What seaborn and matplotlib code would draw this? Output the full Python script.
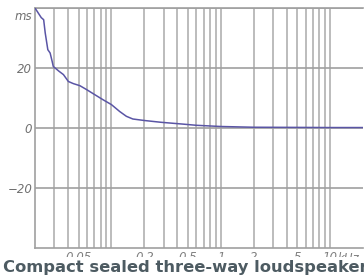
import matplotlib
matplotlib.use("Agg")
import matplotlib.pyplot as plt
import seaborn as sns
import pandas as pd
import numpy as np

# Data (group delay in ms vs frequency in kHz)
freq_khz = [0.020, 0.0228, 0.024, 0.0248, 0.0262, 0.0275, 0.0287, 0.0294, 0.0332,
            0.0364, 0.0404, 0.0448, 0.0515, 0.0593, 0.0705, 0.084, 0.100, 0.119,
            0.137, 0.157, 0.200, 0.285, 0.45, 0.60, 1.0, 2.0, 5.0, 10.0, 20.0]
delay_ms = [40.0, 36.8, 36.1, 31.7, 26.1, 25.0, 22.2, 20.5, 18.9,
            17.8, 15.5, 14.8, 14.1, 12.8, 11.1, 9.4, 7.8, 5.5,
            3.9, 3.0, 2.5, 1.9, 1.3, 0.9, 0.5, 0.25, 0.2, 0.15, 0.15]
x_ticks = [0.05, 0.2, 0.5, 1, 2, 5, 10]
x_ticklabels = ["0.05", "0.2", "0.5", "1", "2", "5", "10"]
y_ticks = [-20, 0, 20]
y_ticklabels = ["\u221220", "0", "20"]
title = "Compact sealed three-way loudspeaker"

sns.set_style("white")
plt.rcParams['font.family'] = ['DejaVu Sans']

W, H = 364, 277
fig = plt.figure(figsize=(W / 100, H / 100), dpi=100)
ax = fig.add_axes([35 / W, 1 - 248 / H, (363 - 35) / W, (248 - 8) / H])

df = pd.DataFrame({"f": freq_khz, "d": delay_ms})

# grid
grid_x = [k * 10.0 ** n for n in (-2, -1, 0, 1) for k in range(1, 10)]
grid_x = [g for g in grid_x if 0.021 < g < 19.9]
for g in grid_x:
    ax.axvline(g, color="#b0b0b0", lw=1.2, zorder=1)
for g in [-20, 0, 20, 40]:
    ax.axhline(g, color="#a0a0a0", lw=1.2, zorder=1)

sns.lineplot(data=df, x="f", y="d", ax=ax, color="#5a55a5", lw=1.1, zorder=3)

ax.set_xscale("log")
ax.set_xlim(0.02, 20)
ax.set_ylim(-40, 40)
ax.set_xlabel("")
ax.set_ylabel("")

for s in ["left", "bottom", "top"]:
    ax.spines[s].set_color("#a0a0a0")
    ax.spines[s].set_linewidth(1.2)
ax.spines["right"].set_visible(False)

ax.set_xticks(x_ticks)
ax.set_xticklabels(x_ticklabels, fontsize=8.5, style="italic", color="#808080")
ax.xaxis.set_minor_locator(matplotlib.ticker.NullLocator())
ax.set_yticks(y_ticks)
ax.set_yticklabels(y_ticklabels, fontsize=8.5, style="italic", color="#707070")
ax.tick_params(axis="both", length=0, pad=2)
ax.tick_params(axis="x", pad=2.5)

ax.text(-0.008, 37.3, "ms", transform=ax.get_yaxis_transform(), ha="right", va="center",
        fontsize=8.5, style="italic", color="#707070")
ax.text(11.7, -41.4, "kHz", ha="left", va="top", fontsize=8.5, style="italic",
        color="#808080")

fig.text(3 / W, 1 - 272 / H, title, ha="left", va="baseline", fontsize=11.8,
         fontweight="bold", color="#4d5b62",
         bbox=dict(facecolor="white", edgecolor="none", pad=2.0), zorder=10)

fig.savefig("out.png", dpi=100)
